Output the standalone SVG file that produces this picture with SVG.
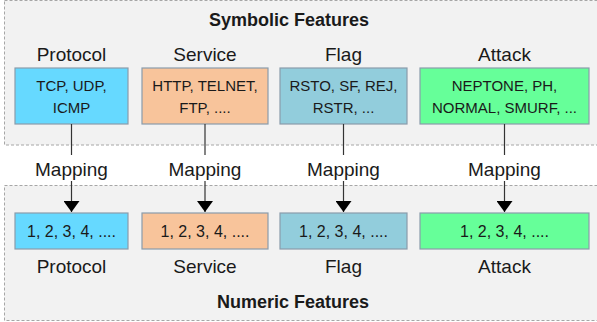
<svg xmlns="http://www.w3.org/2000/svg" width="597" height="322" viewBox="0 0 597 322">
<style>
.panel{fill:#f2f2f2;stroke:#a6a6a6;stroke-width:1;stroke-dasharray:3,2}
.box{stroke:#8a9cab;stroke-width:1.2}
.t{font-family:"Liberation Sans",Arial,sans-serif;fill:#1a1a1a;text-anchor:middle}
.lbl{font-size:19px}
.in{font-size:15px}
.num{font-size:16px}
.title{font-size:18px;font-weight:bold}
.conn{stroke:#333;stroke-width:1.2;fill:none}
</style>
<defs>
<marker id="ah" viewBox="0 0 11 16" refX="11" refY="8" markerWidth="11" markerHeight="16" markerUnits="userSpaceOnUse" orient="auto">
<path d="M0,0 L11,8 L0,16 Z" fill="#000"/>
</marker>
</defs>
<g id="symbolic-panel">
<rect class="panel" x="4.5" y="0.5" width="600" height="144.5"/>
<text class="t title" x="289" y="26">Symbolic Features</text>
</g>
<g id="numeric-panel">
<rect class="panel" x="4.5" y="185.5" width="600" height="135"/>
<text class="t title" x="293" y="308">Numeric Features</text>
</g>
<g id="sym-protocol">
<text class="t lbl" x="71.5" y="61">Protocol</text>
<rect class="box" x="15" y="68" width="113" height="56" fill="#66d9ff"/>
<text class="t in" x="71.5" y="91">TCP, UDP,</text>
<text class="t in" x="71.5" y="113">ICMP</text>
</g>
<g id="sym-service">
<text class="t lbl" x="205" y="61">Service</text>
<rect class="box" x="142" y="68" width="126" height="56" fill="#f8c49b"/>
<text class="t in" x="205" y="91">HTTP, TELNET,</text>
<text class="t in" x="205" y="113">FTP, ....</text>
</g>
<g id="sym-flag">
<text class="t lbl" x="343.5" y="61">Flag</text>
<rect class="box" x="280" y="68" width="127" height="56" fill="#92cddc"/>
<text class="t in" x="343.5" y="91">RSTO, SF, REJ,</text>
<text class="t in" x="343.5" y="113">RSTR, ...</text>
</g>
<g id="sym-attack">
<text class="t lbl" x="504.5" y="61">Attack</text>
<rect class="box" x="420" y="68" width="169" height="56" fill="#66ff99"/>
<text class="t in" x="504.5" y="91">NEPTONE, PH,</text>
<text class="t in" x="504.5" y="113">NORMAL, SMURF, ...</text>
</g>
<g id="num-protocol">
<rect class="box" x="15" y="213" width="113" height="36" fill="#66d9ff"/>
<text class="t num" x="71.5" y="237">1, 2, 3, 4, ....</text>
<text class="t lbl" x="71.5" y="273">Protocol</text>
</g>
<g id="num-service">
<rect class="box" x="142" y="213" width="126" height="36" fill="#f8c49b"/>
<text class="t num" x="205" y="237">1, 2, 3, 4, ....</text>
<text class="t lbl" x="205" y="273">Service</text>
</g>
<g id="num-flag">
<rect class="box" x="280" y="213" width="127" height="36" fill="#92cddc"/>
<text class="t num" x="343.5" y="237">1, 2, 3, 4, ....</text>
<text class="t lbl" x="343.5" y="273">Flag</text>
</g>
<g id="num-attack">
<rect class="box" x="420" y="213" width="169" height="36" fill="#66ff99"/>
<text class="t num" x="504.5" y="237">1, 2, 3, 4, ....</text>
<text class="t lbl" x="504.5" y="273">Attack</text>
</g>
<g id="connectors">
<line class="conn" x1="71.5" y1="124" x2="71.5" y2="155"/>
<line class="conn" x1="71.5" y1="181" x2="71.5" y2="212" marker-end="url(#ah)"/>
<text class="t lbl" x="71.5" y="176">Mapping</text>
<line class="conn" x1="205" y1="124" x2="205" y2="155"/>
<line class="conn" x1="205" y1="181" x2="205" y2="212" marker-end="url(#ah)"/>
<text class="t lbl" x="205" y="176">Mapping</text>
<line class="conn" x1="343.5" y1="124" x2="343.5" y2="155"/>
<line class="conn" x1="343.5" y1="181" x2="343.5" y2="212" marker-end="url(#ah)"/>
<text class="t lbl" x="343.5" y="176">Mapping</text>
<line class="conn" x1="504.5" y1="124" x2="504.5" y2="155"/>
<line class="conn" x1="504.5" y1="181" x2="504.5" y2="212" marker-end="url(#ah)"/>
<text class="t lbl" x="504.5" y="176">Mapping</text>
</g>
</svg>
